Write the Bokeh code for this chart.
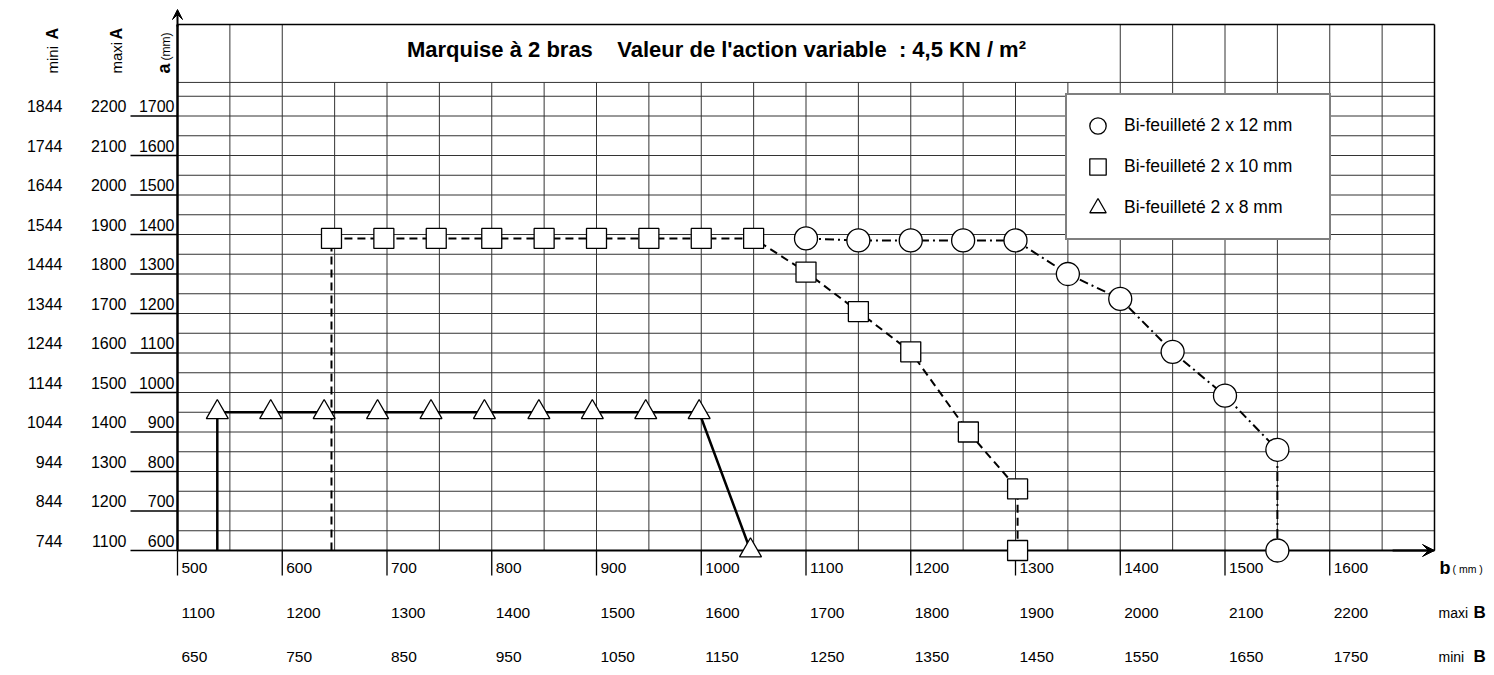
from bokeh.plotting import figure
from bokeh.models import (ColumnDataSource, Range1d, Label, LabelSet, Arrow, VeeHead,
                          Legend, LegendItem)
from bokeh.embed import file_html
from bokeh.resources import INLINE
from bokeh.core.properties import value

# ---------------- data ----------------
b_ticks = [500, 600, 700, 800, 900, 1000, 1100, 1200, 1300, 1400, 1500, 1600]
b_labels = ["500", "600", "700", "800", "900", "1000", "1100", "1200", "1300", "1400", "1500", "1600"]
maxi_B = ["1100", "1200", "1300", "1400", "1500", "1600", "1700", "1800", "1900", "2000", "2100", "2200"]
mini_B = ["650", "750", "850", "950", "1050", "1150", "1250", "1350", "1450", "1550", "1650", "1750"]

a_ticks = [600, 700, 800, 900, 1000, 1100, 1200, 1300, 1400, 1500, 1600, 1700]
a_labels = ["600", "700", "800", "900", "1000", "1100", "1200", "1300", "1400", "1500", "1600", "1700"]
maxi_A = ["1100", "1200", "1300", "1400", "1500", "1600", "1700", "1800", "1900", "2000", "2100", "2200"]
mini_A = ["744", "844", "944", "1044", "1144", "1244", "1344", "1444", "1544", "1644", "1744", "1844"]

series_names = ["Bi-feuilleté 2 x 12 mm", "Bi-feuilleté 2 x 10 mm", "Bi-feuilleté 2 x 8 mm"]

# 2 x 12 mm (circles)
ci_b = [1100, 1150, 1200, 1250, 1300, 1350, 1400, 1450, 1500, 1550, 1550]
ci_a = [1390, 1385, 1385, 1385, 1385, 1300, 1237, 1103, 992, 855, 600]
# 2 x 10 mm (squares)
sq_b = [647, 697, 747, 800, 850, 900, 950, 1000, 1050, 1100, 1150, 1200, 1255, 1302, 1302]
sq_a = [1390, 1390, 1390, 1390, 1390, 1390, 1390, 1390, 1390, 1305, 1205, 1103, 900, 756, 600]
# 2 x 8 mm (triangles)
tri_b = [538, 589, 640, 691, 742, 793, 845, 896, 947, 998, 1047]
tri_a = [950, 950, 950, 950, 950, 950, 950, 950, 950, 950, 600]

title_text = "Marquise à 2 bras\u00a0\u00a0\u00a0 Valeur de l'action variable\u00a0 : 4,5 KN / m²"

# ---------------- geometry ----------------
W, H = 1494, 675
X0, X1 = 500, 1700          # b extent of the chart
Y0 = 600                    # a at the b-axis
XL_PX, XR_PX = 177, 1434    # pixel columns of b = X0 and b = X1
YB_PX, YT_PX = 550, 24      # pixel rows of the b-axis and of the chart top
PX_X = (XR_PX - XL_PX) / (X1 - X0)
PX_Y = 0.395


def bx(xi):
    return X0 + (xi - XL_PX) / PX_X


def ay(yi):
    return Y0 + (YB_PX - yi) / PX_Y


YT = ay(YT_PX)
BAND = 1785                 # lower edge of the title band

FONT = "Liberation Sans"
FONT_V = value(FONT)
GRID_COL = "#333333"
TXT = "black"

p = figure(width=W, height=H, x_range=Range1d(bx(0), bx(W)), y_range=Range1d(ay(H), ay(0)),
           x_axis_type=None, y_axis_type=None, toolbar_location=None,
           output_backend="svg", title=None, min_border=0,
           background_fill_color="white", border_fill_color="white",
           outline_line_color=None)

# ---- grid ----
vx = list(range(X0 + 50, X1, 50))
vtop = [YT if (v <= 600 or v >= 1400) else BAND for v in vx]
p.segment(x0=vx, y0=[Y0] * len(vx), x1=vx, y1=vtop, line_color=GRID_COL, line_width=1)
hy = list(range(Y0 + 50, 1751, 50)) + [BAND]
p.segment(x0=[X0] * len(hy), y0=hy, x1=[X1] * len(hy), y1=hy, line_color=GRID_COL, line_width=1)

# ---- chart border, axes and ticks ----
p.segment(x0=[X0, X1], y0=[YT, Y0], x1=[X1, X1], y1=[YT, YT], line_color="black", line_width=1.5)
p.segment(x0=[X0], y0=[Y0], x1=[X1], y1=[Y0], line_color="black", line_width=2.2)
p.segment(x0=[X0], y0=[Y0], x1=[X0], y1=[YT], line_color="black", line_width=2.5)
p.segment(x0=b_ticks, y0=[Y0] * len(b_ticks), x1=b_ticks,
          y1=[Y0 - 25 / PX_Y] * len(b_ticks), line_color="black", line_width=1.3)
p.segment(x0=[X0] * len(a_ticks), y0=a_ticks, x1=[X0 - 47 / PX_X] * len(a_ticks),
          y1=a_ticks, line_color="black", line_width=1.3)

# arrows
p.add_layout(Arrow(end=VeeHead(size=12, fill_color="black", line_color="black"),
                   x_start=X1 - 40, y_start=Y0, x_end=X1, y_end=Y0, line_width=2))
p.add_layout(Arrow(end=VeeHead(size=10, fill_color="black", line_color="black"),
                   x_start=X0, y_start=YT - 5, x_end=X0, y_end=ay(9), line_width=2))

# ---- series ----
p.line([tri_b[0]] + tri_b, [a_ticks[0]] + tri_a, line_color="black", line_width=2.5)
p.line([sq_b[0]] + sq_b, [a_ticks[0]] + sq_a, line_color="black", line_width=2, line_dash="8 5")
p.line(ci_b, ci_a, line_color="black", line_width=2, line_dash="9 4 2 4")

r_ci = p.scatter(ci_b, ci_a, marker="circle", size=23, fill_color="white",
                 line_color="black", line_width=1.3)
r_sq = p.scatter(sq_b, sq_a, marker="square", size=20, fill_color="white",
                 line_color="black", line_width=1.3)
r_tri = p.scatter(tri_b, tri_a, marker="triangle", size=22, fill_color="white",
                  line_color="black", line_width=1.3)

legend = Legend(items=[LegendItem(label=series_names[0], renderers=[r_ci]),
                       LegendItem(label=series_names[1], renderers=[r_sq]),
                       LegendItem(label=series_names[2], renderers=[r_tri])],
                location=(1065, H - 240), orientation="vertical",
                glyph_width=41, glyph_height=41, spacing=0, padding=10, margin=0,
                label_standoff=6, label_width=195,
                label_text_font=FONT, label_text_font_size="17.5px", label_text_color=TXT,
                border_line_color="black", border_line_width=2,
                background_fill_color="white", background_fill_alpha=1)
p.add_layout(legend, "center")

# ---- tick label rows ----
src_b = ColumnDataSource(dict(b=b_ticks, lab=b_labels, maxi=maxi_B, mini=mini_B))
for col, dy in (("lab", -17), ("maxi", -62), ("mini", -106)):
    p.add_layout(LabelSet(x="b", y=Y0, text=col, source=src_b, x_offset=4, y_offset=dy,
                          text_align="left", text_baseline="middle", text_font=FONT_V,
                          text_font_size="15.5px", text_color=TXT))

src_a = ColumnDataSource(dict(a=a_ticks, lab=a_labels, maxi=maxi_A, mini=mini_A))
for col, dx in (("lab", -3), ("maxi", -51), ("mini", -115)):
    p.add_layout(LabelSet(x=X0, y="a", text=col, source=src_a, x_offset=dx, y_offset=4,
                          text_align="right", text_baseline="alphabetic", text_font=FONT_V,
                          text_font_size="16px", text_color=TXT))

# ---- title ----
p.add_layout(Label(x=bx(716), y=ay(49), text=title_text, text_align="center",
                   text_baseline="middle", text_font=FONT, text_font_size="22px",
                   text_font_style="bold", text_color=TXT))

# ---- right-side row names ----
p.add_layout(Label(x=X1, y=Y0, x_offset=5, y_offset=-17, text="b", text_font=FONT,
                   text_font_size="18px", text_font_style="bold", text_baseline="middle",
                   text_color=TXT))
p.add_layout(Label(x=X1, y=Y0, x_offset=18, y_offset=-18, text="( mm )", text_font=FONT,
                   text_font_size="10.5px", text_baseline="middle", text_color=TXT))
for txt, dy in (("maxi", -62), ("mini", -106)):
    p.add_layout(Label(x=X1, y=Y0, x_offset=4, y_offset=dy, text=txt, text_font=FONT,
                       text_font_size="14px", text_baseline="middle", text_color=TXT))
    p.add_layout(Label(x=X1, y=Y0, x_offset=39, y_offset=dy, text="B", text_font=FONT,
                       text_font_size="17px", text_font_style="bold", text_baseline="middle",
                       text_color=TXT))

# ---- left-side rotated column names ----
ANG = 1.5707963267948966
for txt, xi in (("mini", 52), ("maxi", 116)):
    p.add_layout(Label(x=bx(xi), y=ay(73), text=txt, angle=ANG, text_align="left",
                       text_baseline="middle", text_font=FONT, text_font_size="15px",
                       text_color=TXT))
    p.add_layout(Label(x=bx(xi), y=ay(39), text="A", angle=ANG, text_align="left",
                       text_baseline="middle", text_font=FONT, text_font_size="16px",
                       text_font_style="bold", text_color=TXT))
p.add_layout(Label(x=bx(163), y=ay(73), text="a", angle=ANG, text_align="left",
                   text_baseline="middle", text_font=FONT, text_font_size="18px",
                   text_font_style="bold", text_color=TXT))
p.add_layout(Label(x=bx(165), y=ay(60), text="(mm)", angle=ANG, text_align="left",
                   text_baseline="middle", text_font=FONT, text_font_size="12px",
                   text_color=TXT))

open("out.html", "w").write(file_html(p, INLINE))
